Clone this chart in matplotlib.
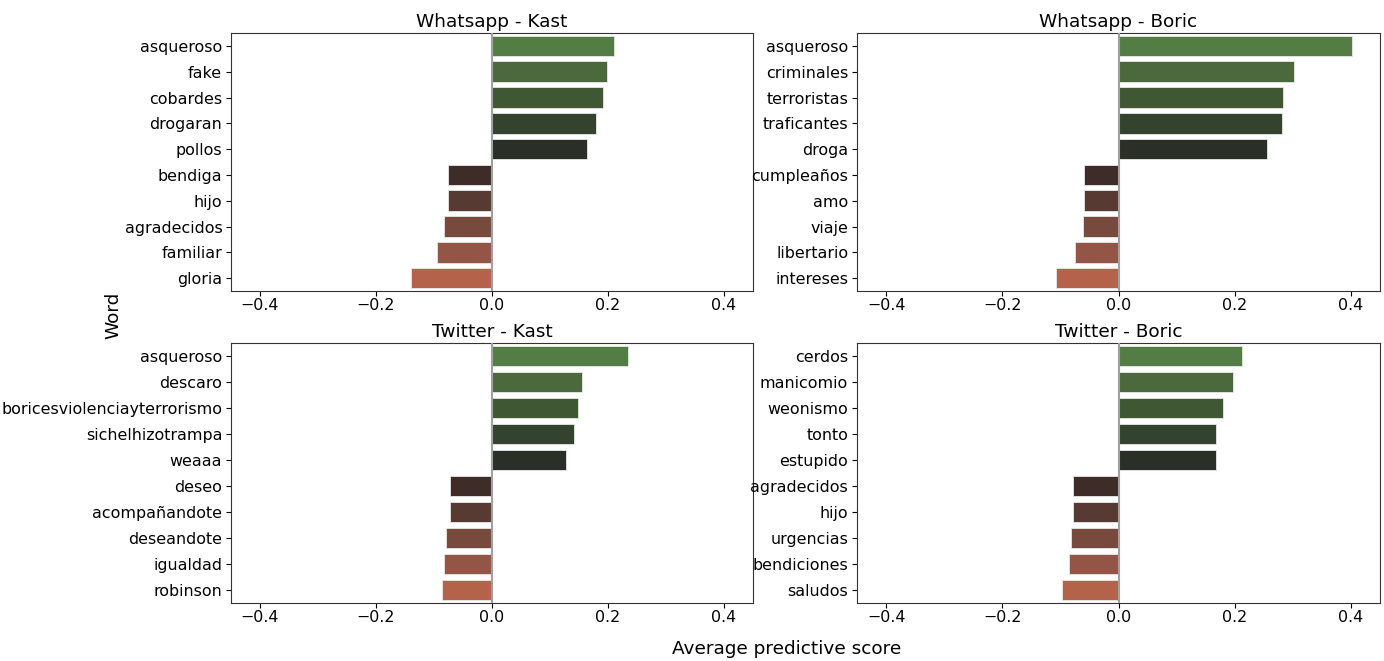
import numpy as np
import matplotlib
matplotlib.use('Agg')
import matplotlib.pyplot as plt

# words and average predictive scores per panel
wa_kast_words = ['asqueroso', 'fake', 'cobardes', 'drogaran', 'pollos',
                 'bendiga', 'hijo', 'agradecidos', 'familiar', 'gloria']
wa_kast_vals = [0.210, 0.198, 0.191, 0.179, 0.164,
                -0.075, -0.075, -0.082, -0.094, -0.139]

wa_boric_words = ['asqueroso', 'criminales', 'terroristas', 'traficantes', 'droga',
                  'cumpleaños', 'amo', 'viaje', 'libertario', 'intereses']
wa_boric_vals = [0.401, 0.302, 0.283, 0.281, 0.256,
                 -0.060, -0.060, -0.061, -0.075, -0.108]

tw_kast_words = ['asqueroso', 'descaro', 'boricesviolenciayterrorismo', 'sichelhizotrampa', 'weaaa',
                 'deseo', 'acompañandote', 'deseandote', 'igualdad', 'robinson']
tw_kast_vals = [0.234, 0.155, 0.149, 0.141, 0.128,
                -0.072, -0.072, -0.079, -0.082, -0.087]

tw_boric_words = ['cerdos', 'manicomio', 'weonismo', 'tonto', 'estupido',
                  'agradecidos', 'hijo', 'urgencias', 'bendiciones', 'saludos']
tw_boric_vals = [0.212, 0.197, 0.180, 0.168, 0.167,
                 -0.079, -0.079, -0.082, -0.085, -0.098]

titles = ['Whatsapp - Kast', 'Whatsapp - Boric', 'Twitter - Kast', 'Twitter - Boric']
palette = ['#547c45', '#4b693d', '#3f5733', '#33432d', '#2a2f28',
           '#3e2c29', '#573a32', '#784a3e', '#935545', '#b5624b']

panels = [(wa_kast_words, wa_kast_vals), (wa_boric_words, wa_boric_vals),
          (tw_kast_words, tw_kast_vals), (tw_boric_words, tw_boric_vals)]

W, H = 1384, 661
fig = plt.figure(figsize=(W / 100, H / 100), dpi=100)
# axes boxes in pixels: left, top, right, bottom
boxes = [(231, 33, 753, 291), (857, 33, 1380, 291),
         (231, 343, 753, 603), (857, 343, 1380, 603)]

for (words, vals), title, (l, t, r, b) in zip(panels, titles, boxes):
    ax = fig.add_axes([l / W, 1 - b / H, (r - l) / W, (b - t) / H])
    y = np.arange(len(words))
    ax.barh(y, vals, height=0.8, color=palette, edgecolor='#e8e8e8', linewidth=0.6)
    ax.axvline(0, color='#a0a0a0', lw=1.5, zorder=3)
    ax.set_yticks(y)
    ax.set_yticklabels(words)
    ax.set_ylim(len(words) - 0.5, -0.5)
    ax.set_xlim(-0.45, 0.45)
    ax.set_xticks([-0.4, -0.2, 0.0, 0.2, 0.4])
    ax.tick_params(labelsize=11.4, length=3.3, pad=3)
    ax.tick_params(axis='x', pad=2)
    ax.set_title(title, fontsize=13.3, pad=4.5)
    for s in ax.spines.values():
        s.set_color('#333333')

fig.text(113 / W, 1 - 315 / H, 'Word', rotation=90, fontsize=13.3, ha='center', va='center')
fig.text(787 / W, 1 - 649 / H, 'Average predictive score', fontsize=13.3, ha='center', va='center')

fig.savefig('out.png', dpi=100)
